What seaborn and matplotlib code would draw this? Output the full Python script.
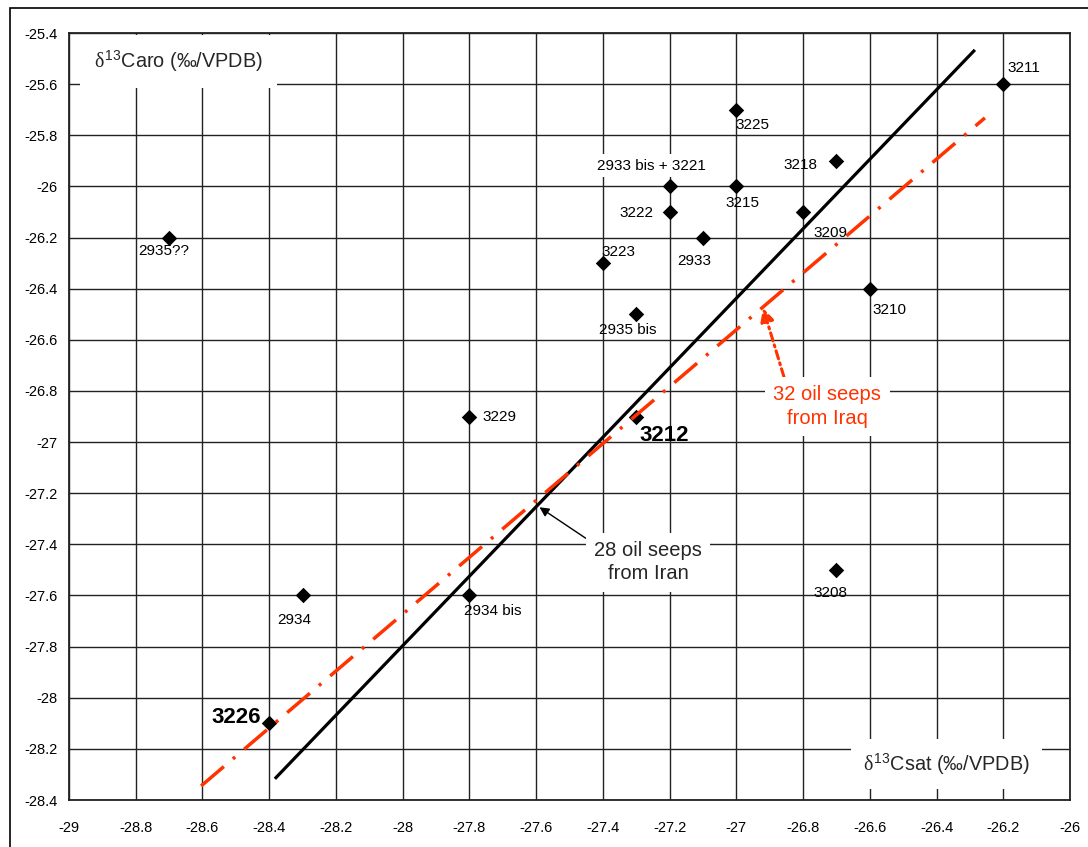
import matplotlib
matplotlib.use("Agg")
import matplotlib.pyplot as plt
from matplotlib.patches import Rectangle
import numpy as np
import pandas as pd
import seaborn as sns

# ---------------- data ----------------
sample_labels = ["2935??", "3223", "2935 bis", "2933 bis + 3221", "3222", "2933",
                 "3225", "3215", "3218", "3209", "3210", "3211", "3229", "3212",
                 "3208", "2934", "2934 bis", "3226"]
csat = [-28.7, -27.4, -27.3, -27.2, -27.2, -27.1, -27.0, -27.0, -26.7, -26.8,
        -26.6, -26.2, -27.8, -27.3, -26.7, -28.3, -27.8, -28.4]
caro = [-26.2, -26.3, -26.5, -26.0, -26.1, -26.2, -25.7, -26.0, -25.9, -26.1,
        -26.4, -25.6, -26.9, -26.9, -27.5, -27.6, -27.6, -28.1]

iran_line_x = [-28.383, -26.285]
iran_line_y = [-28.317, -25.466]
iraq_line_x = [-28.604, -26.255]
iraq_line_y = [-28.345, -25.732]

x_ticks = [-29, -28.8, -28.6, -28.4, -28.2, -28, -27.8, -27.6, -27.4, -27.2,
           -27, -26.8, -26.6, -26.4, -26.2, -26]
y_ticks = [-28.4, -28.2, -28, -27.8, -27.6, -27.4, -27.2, -27, -26.8, -26.6,
           -26.4, -26.2, -26, -25.8, -25.6, -25.4]

df = pd.DataFrame({"csat": csat, "caro": caro, "label": sample_labels})

# ---------------- style ----------------
sns.set_theme(style="white")
plt.rcParams["font.family"] = ["Liberation Sans", "DejaVu Sans"]
plt.rcParams["mathtext.fontset"] = "custom"
plt.rcParams["mathtext.rm"] = "Liberation Sans"
plt.rcParams["mathtext.it"] = "Liberation Serif"
plt.rcParams["lines.scale_dashes"] = False

fig = plt.figure(figsize=(10.88, 8.47), dpi=100)
ax = fig.add_axes([69 / 1088, 1 - 800 / 847, (1070 - 69) / 1088, (800 - 33) / 847])

# outer frame of the figure
fig.patches.append(Rectangle((10 / 1088, -0.1), 1.2, 1 - 8 / 847 + 0.1,
                             transform=fig.transFigure, fill=False,
                             edgecolor="black", linewidth=1.2, clip_on=False))

ax.set_xlim(-29, -26)
ax.set_ylim(-28.4, -25.4)
ax.set_xticks(x_ticks)
ax.set_yticks(y_ticks)
ax.set_xticklabels([f"{v:g}" for v in x_ticks])
ax.set_yticklabels([f"{v:g}" for v in y_ticks])
ax.tick_params(axis="x", length=0, pad=15, labelsize=10.5, colors="black")
ax.tick_params(axis="y", length=0, pad=8, labelsize=10.5, colors="black")
ax.grid(True, color="#222222", linewidth=1.0)
ax.set_axisbelow(True)
for sp in ax.spines.values():
    sp.set_color("#222222")
    sp.set_linewidth(1.3)
    sp.set_visible(True)

# points
sns.scatterplot(data=df, x="csat", y="caro", marker="D", color="black",
                s=62, linewidth=0, ax=ax, zorder=3, legend=False)
ax.set_xlabel("")
ax.set_ylabel("")

# regression lines
ax.plot(iran_line_x, iran_line_y, color="black", linewidth=2.3,
        solid_capstyle="butt", zorder=4)
ax.plot(iraq_line_x, iraq_line_y, color="#FF3300", linewidth=2.5,
        dashes=(21.5, 8.5, 2.2, 8.5), dash_capstyle="butt", zorder=5)

# point labels: offsets in points (dx, dy)
offsets = {
    "2935??": (-4, -10), "3223": (11, 8), "2935 bis": (-6, -11.5),
    "2933 bis + 3221": (-13, 15), "3222": (-24, -0.5), "2933": (-6, -17),
    "3225": (11.5, -11), "3215": (4.5, -12), "3218": (-26, -3),
    "3209": (20, -15), "3210": (14, -15), "3211": (14.5, 11.5),
    "3229": (21.5, -0.5), "3212": (20, -14), "3208": (-4, -16.5),
    "2934": (-6, -18), "2934 bis": (16.5, -11.5), "3226": (-24, 4),
}
for lab, xv, yv in zip(sample_labels, csat, caro):
    dx, dy = offsets[lab]
    kw = dict(fontsize=11, color="black")
    if lab in ("3212", "3226"):
        kw = dict(fontsize=16, fontweight="bold", color="black")
    if lab == "2933 bis + 3221":
        kw["bbox"] = dict(facecolor="white", edgecolor="none", pad=3)
    ax.annotate(lab, (xv, yv), xytext=(dx, dy), textcoords="offset points",
                ha="center", va="center", zorder=6, **kw)

# axis titles inside the plot
ax.text(-28.925, -25.513, r"$\delta^{13}$Caro (‰/VPDB)", fontsize=14.3,
        ha="left", va="center", zorder=6,
        bbox=dict(facecolor="white", edgecolor="none", pad=10))
ax.text(-26.12, -28.26, r"$\delta^{13}$Csat (‰/VPDB)", fontsize=14.3,
        ha="right", va="center", zorder=6,
        bbox=dict(facecolor="white", edgecolor="none", pad=9))

# annotations with arrows
ax.annotate("28 oil seeps\nfrom Iran", xy=(-27.59, -27.255),
            xytext=(-27.265, -27.47), fontsize=14.5, ha="center", va="center",
            zorder=7, linespacing=1.3,
            bbox=dict(facecolor="white", edgecolor="none", pad=6),
            arrowprops=dict(arrowstyle="-|>", color="black", lw=1.0,
                            mutation_scale=14, shrinkA=0, shrinkB=0,
                            relpos=(0.05, 0.85)))
ax.annotate("32 oil seeps\nfrom Iraq", xy=(-26.92, -26.475),
            xytext=(-26.727, -26.86), fontsize=14.5, ha="center", va="center",
            color="#FF3300", zorder=7, linespacing=1.3,
            bbox=dict(facecolor="white", edgecolor="none", pad=6),
            arrowprops=dict(arrowstyle="-|>", color="#FF3300", lw=2.2,
                            linestyle=(0, (6, 3, 1.5, 3)),
                            mutation_scale=20, shrinkA=0, shrinkB=0,
                            relpos=(0.12, 1.0)))

fig.savefig("out.png", dpi=100)
